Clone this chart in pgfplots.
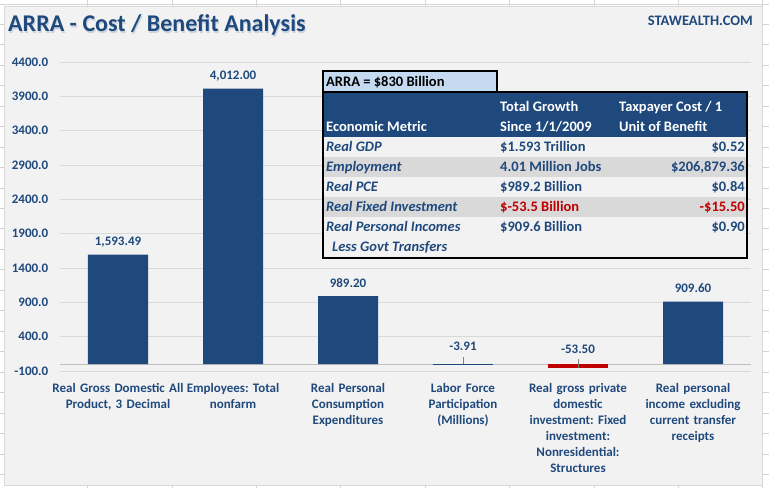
\documentclass[border=0pt]{standalone}
\usepackage{fontspec}
\setmainfont{Carlito}
\usepackage{pgfplots}
\pgfplotsset{compat=1.18}
\frenchspacing

\definecolor{navy}{HTML}{1F497D}
\definecolor{negred}{HTML}{C00000}
\definecolor{chartbg}{HTML}{F2F2F2}
\definecolor{gridc}{HTML}{D9D9D9}
\definecolor{zeroc}{HTML}{BFBFBF}
\definecolor{rowgray}{HTML}{D9D9D9}
\definecolor{titlebg}{HTML}{C5D9F1}
\definecolor{sheet}{HTML}{D4D4D4}
\definecolor{leadc}{HTML}{7F7F7F}

\newcommand{\lab}{\pgfmathprintnumber[fixed,fixed zerofill,precision=2,1000 sep={,},assume math mode=true]{\pgfplotspointmeta}}
\newcommand{\tb}{\bfseries\fontsize{14.5}{17}\selectfont}

\begin{document}
\begin{tikzpicture}
\useasboundingbox (0,0) rectangle (769pt,488pt);

% sheet and chart area, coordinates in pixels from the top left
\begin{scope}[x=1pt,y=-1pt,yshift=488pt]
  \fill[white] (0,0) rectangle (769,488);
  \foreach \k in {1,...,9} \draw[sheet] ({3+84.4*\k},0) -- ({3+84.4*\k},488);
  \foreach \k in {0,...,22} \draw[sheet] (0,{24+20.47*\k}) -- (769,{24+20.47*\k});
  \draw[sheet] (0,4.3) -- (769,4.3);
  \fill[chartbg] (4,6) rectangle (762,485);
  \draw[gridc] (4,6) rectangle (762,485);
  \node[anchor=base west, inner sep=0pt, text=navy!35, opacity=0.6,
        font=\bfseries\fontsize{24}{28}\selectfont] at (9,33.5) {ARRA - Cost / Benefit Analysis};
  \node[anchor=base west, inner sep=0pt, text=navy,
        font=\bfseries\fontsize{24}{28}\selectfont] at (8,32) {ARRA - Cost / Benefit Analysis};
  \node[anchor=base east, inner sep=0pt, text=navy,
        font=\bfseries\fontsize{14.5}{17}\selectfont] at (753,26) {STAWEALTH.COM};
\end{scope}

\begin{axis}[
  at={(60.5pt,117pt)}, anchor=south west,
  scale only axis, width=690pt, height=309pt,
  xmin=-0.5, xmax=5.5, ymin=-100, ymax=4400,
  ybar, bar width=60pt, bar shift=0pt,
  clip=false,
  axis line style={draw=none},
  tick style={draw=none}, major tick length=0pt,
  ytick={-100,400,...,4400},
  ymajorgrids, major grid style={draw=gridc, line width=0.9pt},
  extra y ticks={0}, extra y tick labels={},
  extra y tick style={grid=major, major grid style={draw=zeroc, line width=0.9pt}},
  /pgf/number format/assume math mode=true,
  yticklabel style={font=\bfseries\fontsize{13}{15}\selectfont, text=navy,
    anchor=east, inner sep=0pt, xshift=-12pt,
    /pgf/number format/.cd, fixed, fixed zerofill, precision=1, 1000 sep={}},
  xtick={0,...,5},
  xticklabels={
    {Real Gross Domestic All\\Product, 3 Decimal},
    {Employees: Total\\nonfarm},
    {Real Personal\\Consumption\\Expenditures},
    {Labor Force\\Participation\\(Millions)},
    {Real gross private\\domestic\\investment: Fixed\\investment:\\Nonresidential:\\Structures},
    {Real personal\\income excluding\\current transfer\\receipts}},
  xticklabel style={font=\bfseries\fontsize{13}{16}\selectfont, text=navy,
    text width=150pt, align=center, anchor=north, inner sep=0pt,
    text height=9pt, yshift=-12pt},
]
\addplot[fill=navy, draw=none, nodes near coords=\lab,
  every node near coord/.append style={anchor=base, inner sep=0pt, yshift=9pt,
    text=navy, font=\bfseries\fontsize{13}{15}\selectfont}]
  coordinates {(0,1593.49) (1,4012.00) (2,989.20) (5,909.60)};
\addplot[fill=navy, draw=none, nodes near coords=\lab,
  every node near coord/.append style={anchor=base, inner sep=0pt, yshift=13.7pt,
    text=navy, font=\bfseries\fontsize{13}{15}\selectfont}]
  coordinates {(3,-3.91)};
\addplot[fill=negred, draw=none, nodes near coords=\lab,
  every node near coord/.append style={anchor=base, inner sep=0pt, yshift=14.7pt,
    text=navy, font=\bfseries\fontsize{13}{15}\selectfont}]
  coordinates {(4,-53.50)};
\coordinate (l3) at (axis cs:3,0);
\coordinate (l4) at (axis cs:4,-53.5);
\end{axis}
\draw[leadc, line width=0.8pt] (l3) -- ++(0pt,7pt);
\draw[leadc, line width=0.8pt] (l4) -- ++(0pt,9pt);

% inset table
\begin{scope}[x=1pt,y=-1pt,yshift=488pt, every node/.style={inner sep=0pt, font=\tb}]
  \fill[titlebg] (323,71) rectangle (497,92);
  \draw[line width=1.6pt] (323,71) rectangle (497,92);
  \fill[navy] (323,92) rectangle (747,137);
  \fill[chartbg] (323,137) rectangle (747,258);
  \fill[rowgray] (323,157) rectangle (747,177);
  \fill[rowgray] (323,197) rectangle (747,217);
  \draw[line width=1.6pt] (323,92) rectangle (747,258);
  \node[anchor=base west] at (326,87) {ARRA = \$830 Billion};
  \begin{scope}[every node/.append style={text=white}]
    \node[anchor=base west] at (326,131.7) {Economic Metric};
    \node[anchor=base west] at (500,111.7) {Total Growth};
    \node[anchor=base west] at (500,131.7) {Since 1/1/2009};
    \node[anchor=base west] at (619,111.7) {Taxpayer Cost / 1};
    \node[anchor=base west] at (619,131.7) {Unit of Benefit};
  \end{scope}
  \begin{scope}[every node/.append style={text=navy}]
    \node[anchor=base west] at (326,152) {\itshape Real GDP};
    \node[anchor=base west] at (500,152) {\$1.593 Trillion};
    \node[anchor=base east] at (745,152) {\$0.52};
    \node[anchor=base west] at (326,172) {\itshape Employment};
    \node[anchor=base west] at (500,172) {4.01 Million Jobs};
    \node[anchor=base east] at (745,172) {\$206,879.36};
    \node[anchor=base west] at (326,192) {\itshape Real PCE};
    \node[anchor=base west] at (500,192) {\$989.2 Billion};
    \node[anchor=base east] at (745,192) {\$0.84};
    \node[anchor=base west] at (326,212) {\itshape Real Fixed Investment};
    \node[anchor=base west, text=negred] at (500,212) {\$-53.5 Billion};
    \node[anchor=base east, text=negred] at (745,212) {-\$15.50};
    \node[anchor=base west] at (326,232) {\itshape Real Personal Incomes};
    \node[anchor=base west] at (500,232) {\$909.6 Billion};
    \node[anchor=base east] at (745,232) {\$0.90};
    \node[anchor=base west] at (332,252) {\itshape Less Govt Transfers};
  \end{scope}
\end{scope}
\end{tikzpicture}
\end{document}
